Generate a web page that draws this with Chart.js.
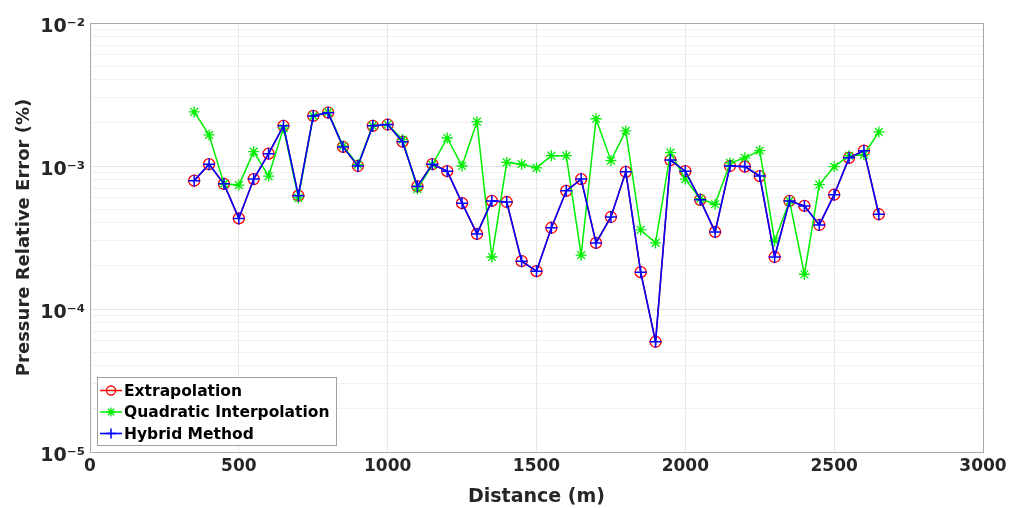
<!DOCTYPE html>
<html>
<head>
<meta charset="utf-8">
<script src="https://cdn.jsdelivr.net/npm/chart.js@4/dist/chart.umd.min.js"></script>
<style>
  html, body { margin: 0; padding: 0; background: #fff; }
  canvas { display: block; }
</style>
</head>
<body>
<canvas id="chart" width="1011" height="508"></canvas>
<script>
// distance along the line (m)
const distances = [350, 400, 450, 500, 550, 600, 650, 700, 750, 800, 850, 900, 950, 1000,
  1050, 1100, 1150, 1200, 1250, 1300, 1350, 1400, 1450, 1500, 1550, 1600, 1650, 1700,
  1750, 1800, 1850, 1900, 1950, 2000, 2050, 2100, 2150, 2200, 2250, 2300, 2350, 2400,
  2450, 2500, 2550, 2600, 2650];

// pressure relative error (%)
const extrapolation = [7.9e-4, 1.03e-3, 7.5e-4, 4.3e-4, 8.1e-4, 1.22e-3, 1.91e-3, 6.2e-4,
  2.24e-3, 2.36e-3, 1.36e-3, 1.0e-3, 1.91e-3, 1.95e-3, 1.48e-3, 7.2e-4, 1.03e-3, 9.2e-4,
  5.5e-4, 3.35e-4, 5.7e-4, 5.6e-4, 2.16e-4, 1.84e-4, 3.7e-4, 6.7e-4, 8.1e-4, 2.9e-4,
  4.4e-4, 9.1e-4, 1.81e-4, 5.9e-5, 1.1e-3, 9.2e-4, 5.8e-4, 3.46e-4, 1.0e-3, 9.9e-4,
  8.5e-4, 2.31e-4, 5.7e-4, 5.26e-4, 3.87e-4, 6.3e-4, 1.14e-3, 1.28e-3, 4.6e-4];

const quadratic = [2.39e-3, 1.65e-3, 7.5e-4, 7.35e-4, 1.26e-3, 8.5e-4, 1.84e-3, 5.98e-4,
  2.24e-3, 2.38e-3, 1.38e-3, 1.02e-3, 1.91e-3, 1.95e-3, 1.53e-3, 6.9e-4, 1.02e-3, 1.57e-3,
  1.0e-3, 2.04e-3, 2.31e-4, 1.06e-3, 1.03e-3, 9.7e-4, 1.18e-3, 1.18e-3, 2.38e-4, 2.14e-3,
  1.09e-3, 1.76e-3, 3.57e-4, 2.9e-4, 1.24e-3, 8.1e-4, 5.9e-4, 5.4e-4, 1.05e-3, 1.14e-3,
  1.28e-3, 2.99e-4, 5.7e-4, 1.75e-4, 7.4e-4, 9.9e-4, 1.18e-3, 1.2e-3, 1.73e-3];

const hybrid = [7.9e-4, 1.03e-3, 7.5e-4, 4.3e-4, 8.1e-4, 1.22e-3, 1.91e-3, 6.2e-4,
  2.24e-3, 2.36e-3, 1.36e-3, 1.0e-3, 1.91e-3, 1.95e-3, 1.48e-3, 7.2e-4, 1.03e-3, 9.2e-4,
  5.5e-4, 3.35e-4, 5.7e-4, 5.6e-4, 2.16e-4, 1.84e-4, 3.7e-4, 6.7e-4, 8.1e-4, 2.9e-4,
  4.4e-4, 9.1e-4, 1.81e-4, 5.9e-5, 1.1e-3, 9.2e-4, 5.8e-4, 3.46e-4, 1.0e-3, 9.9e-4,
  8.5e-4, 2.31e-4, 5.7e-4, 5.26e-4, 3.87e-4, 6.3e-4, 1.14e-3, 1.28e-3, 4.6e-4];

const seriesNames = ['Extrapolation', 'Quadratic Interpolation', 'Hybrid Method'];
const yExponents = [-5, -4, -3, -2];
const xTickValues = [0, 500, 1000, 1500, 2000, 2500, 3000];

const TXT = '#262626';
const FONT = "'DejaVu Sans', 'Noto Sans', sans-serif";

const supMap = { '-': '\u207B', '0': '\u2070', '1': '\u00B9', '2': '\u00B2', '3': '\u00B3',
  '4': '\u2074', '5': '\u2075', '6': '\u2076', '7': '\u2077', '8': '\u2078', '9': '\u2079' };
function powLabel(e) {
  return '10' + String(e).split('').map(c => supMap[c]).join('');
}
function isPow10(v) {
  const l = Math.log10(v);
  return Math.abs(l - Math.round(l)) < 1e-9;
}

function toPoints(ys) {
  return distances.map((x, i) => ({ x: x, y: ys[i] }));
}

// box around the axes + legend inside the plot, MATLAB style
const boxAndLegend = {
  id: 'boxAndLegend',
  afterDraw(chart) {
    const ctx = chart.ctx;
    const a = chart.chartArea;
    ctx.save();
    ctx.strokeStyle = '#a8a8a8';
    ctx.lineWidth = 1;
    ctx.strokeRect(Math.round(a.left) + 0.5, Math.round(a.top) + 0.5,
      Math.round(a.right - a.left), Math.round(a.bottom - a.top));

    const lx = a.left + 7, ly = a.bottom - 75, lw = 239, lh = 68;
    ctx.fillStyle = '#fff';
    ctx.fillRect(lx, ly, lw, lh);
    ctx.strokeStyle = '#a0a0a0';
    ctx.strokeRect(lx + 0.5, ly + 0.5, lw, lh);

    ctx.font = 'bold 15.5px ' + FONT;
    ctx.textBaseline = 'middle';
    chart.data.datasets.forEach((ds, i) => {
      const y = ly + 13.5 + i * 21.5;
      ctx.strokeStyle = ds.borderColor;
      ctx.lineWidth = ds.borderWidth;
      ctx.beginPath();
      ctx.moveTo(lx + 3, y);
      ctx.lineTo(lx + 25, y);
      ctx.stroke();
      ctx.strokeStyle = ds.pointBorderColor;
      ctx.fillStyle = 'rgba(0,0,0,0)';
      ctx.lineWidth = ds.pointBorderWidth;
      Chart.helpers.drawPoint(ctx, {
        pointStyle: ds.pointStyle, radius: ds.pointRadius - 1, rotation: 0,
        borderWidth: ds.pointBorderWidth
      }, lx + 14, y);
      ctx.fillStyle = '#000';
      ctx.fillText(ds.label, lx + 27, y + 1);
    });
    ctx.restore();
  }
};

new Chart(document.getElementById('chart'), {
  type: 'line',
  data: {
    datasets: [
      {
        label: seriesNames[0], data: toPoints(extrapolation), order: 2,
        borderColor: '#ff0000', borderWidth: 1.5,
        pointStyle: 'circle', pointRadius: 5.5, pointBorderColor: '#ff0000',
        pointBackgroundColor: 'rgba(0,0,0,0)', pointBorderWidth: 1.3
      },
      {
        label: seriesNames[1], data: toPoints(quadratic), order: 1,
        borderColor: '#00ee00', borderWidth: 1.5,
        pointStyle: 'star', pointRadius: 5.5, pointBorderColor: '#00ee00',
        pointBackgroundColor: 'rgba(0,0,0,0)', pointBorderWidth: 1.3
      },
      {
        label: seriesNames[2], data: toPoints(hybrid), order: 0,
        borderColor: '#0000ff', borderWidth: 1.6,
        pointStyle: 'cross', pointRadius: 6, pointBorderColor: '#0000ff',
        pointBackgroundColor: 'rgba(0,0,0,0)', pointBorderWidth: 1.5
      }
    ]
  },
  options: {
    responsive: false,
    animation: false,
    layout: { padding: { top: 23, right: 28, left: 0, bottom: 0 } },
    plugins: { legend: { display: false }, tooltip: { enabled: false } },
    elements: { line: { tension: 0 } },
    scales: {
      x: {
        type: 'linear', min: 0, max: 3000,
        afterBuildTicks: s => { s.ticks = xTickValues.map(v => ({ value: v })); },
        afterFit: s => { s.height = 56; },
        ticks: { color: TXT, font: { family: FONT, size: 17, weight: 'bold' }, padding: 4,
          maxRotation: 0, callback: v => String(v) },
        grid: { color: '#e6e6e6', drawTicks: false },
        border: { color: '#a8a8a8' },
        title: { display: true, text: 'Distance (m)', color: TXT,
          font: { family: FONT, size: 19, weight: 'bold' }, padding: { top: 0, bottom: 0 } }
      },
      y: {
        type: 'logarithmic', min: 1e-5, max: 1e-2,
        afterBuildTicks: s => {
          const t = [];
          for (let e = yExponents[0]; e < yExponents[yExponents.length - 1]; e++) {
            for (let m = 1; m < 10; m++) t.push({ value: m * Math.pow(10, e) });
          }
          t.push({ value: Math.pow(10, yExponents[yExponents.length - 1]) });
          s.ticks = t;
        },
        afterFit: s => { s.width = 90; },
        ticks: {
          color: TXT, font: { family: FONT, size: 19, weight: 'bold' }, padding: 5,
          autoSkip: false, labelOffset: 4,
          callback: v => isPow10(v) ? powLabel(Math.round(Math.log10(v))) : ''
        },
        grid: {
          drawTicks: false,
          color: c => isPow10(c.tick.value) ? '#e3e3e3' : '#f1f1f1'
        },
        border: { color: '#a8a8a8' },
        title: { display: true, text: 'Pressure Relative Error (%)', color: TXT,
          font: { family: FONT, size: 18, weight: 'bold' }, padding: { top: 14, bottom: 0 } }
      }
    }
  },
  plugins: [boxAndLegend]
});
</script>
</body>
</html>
